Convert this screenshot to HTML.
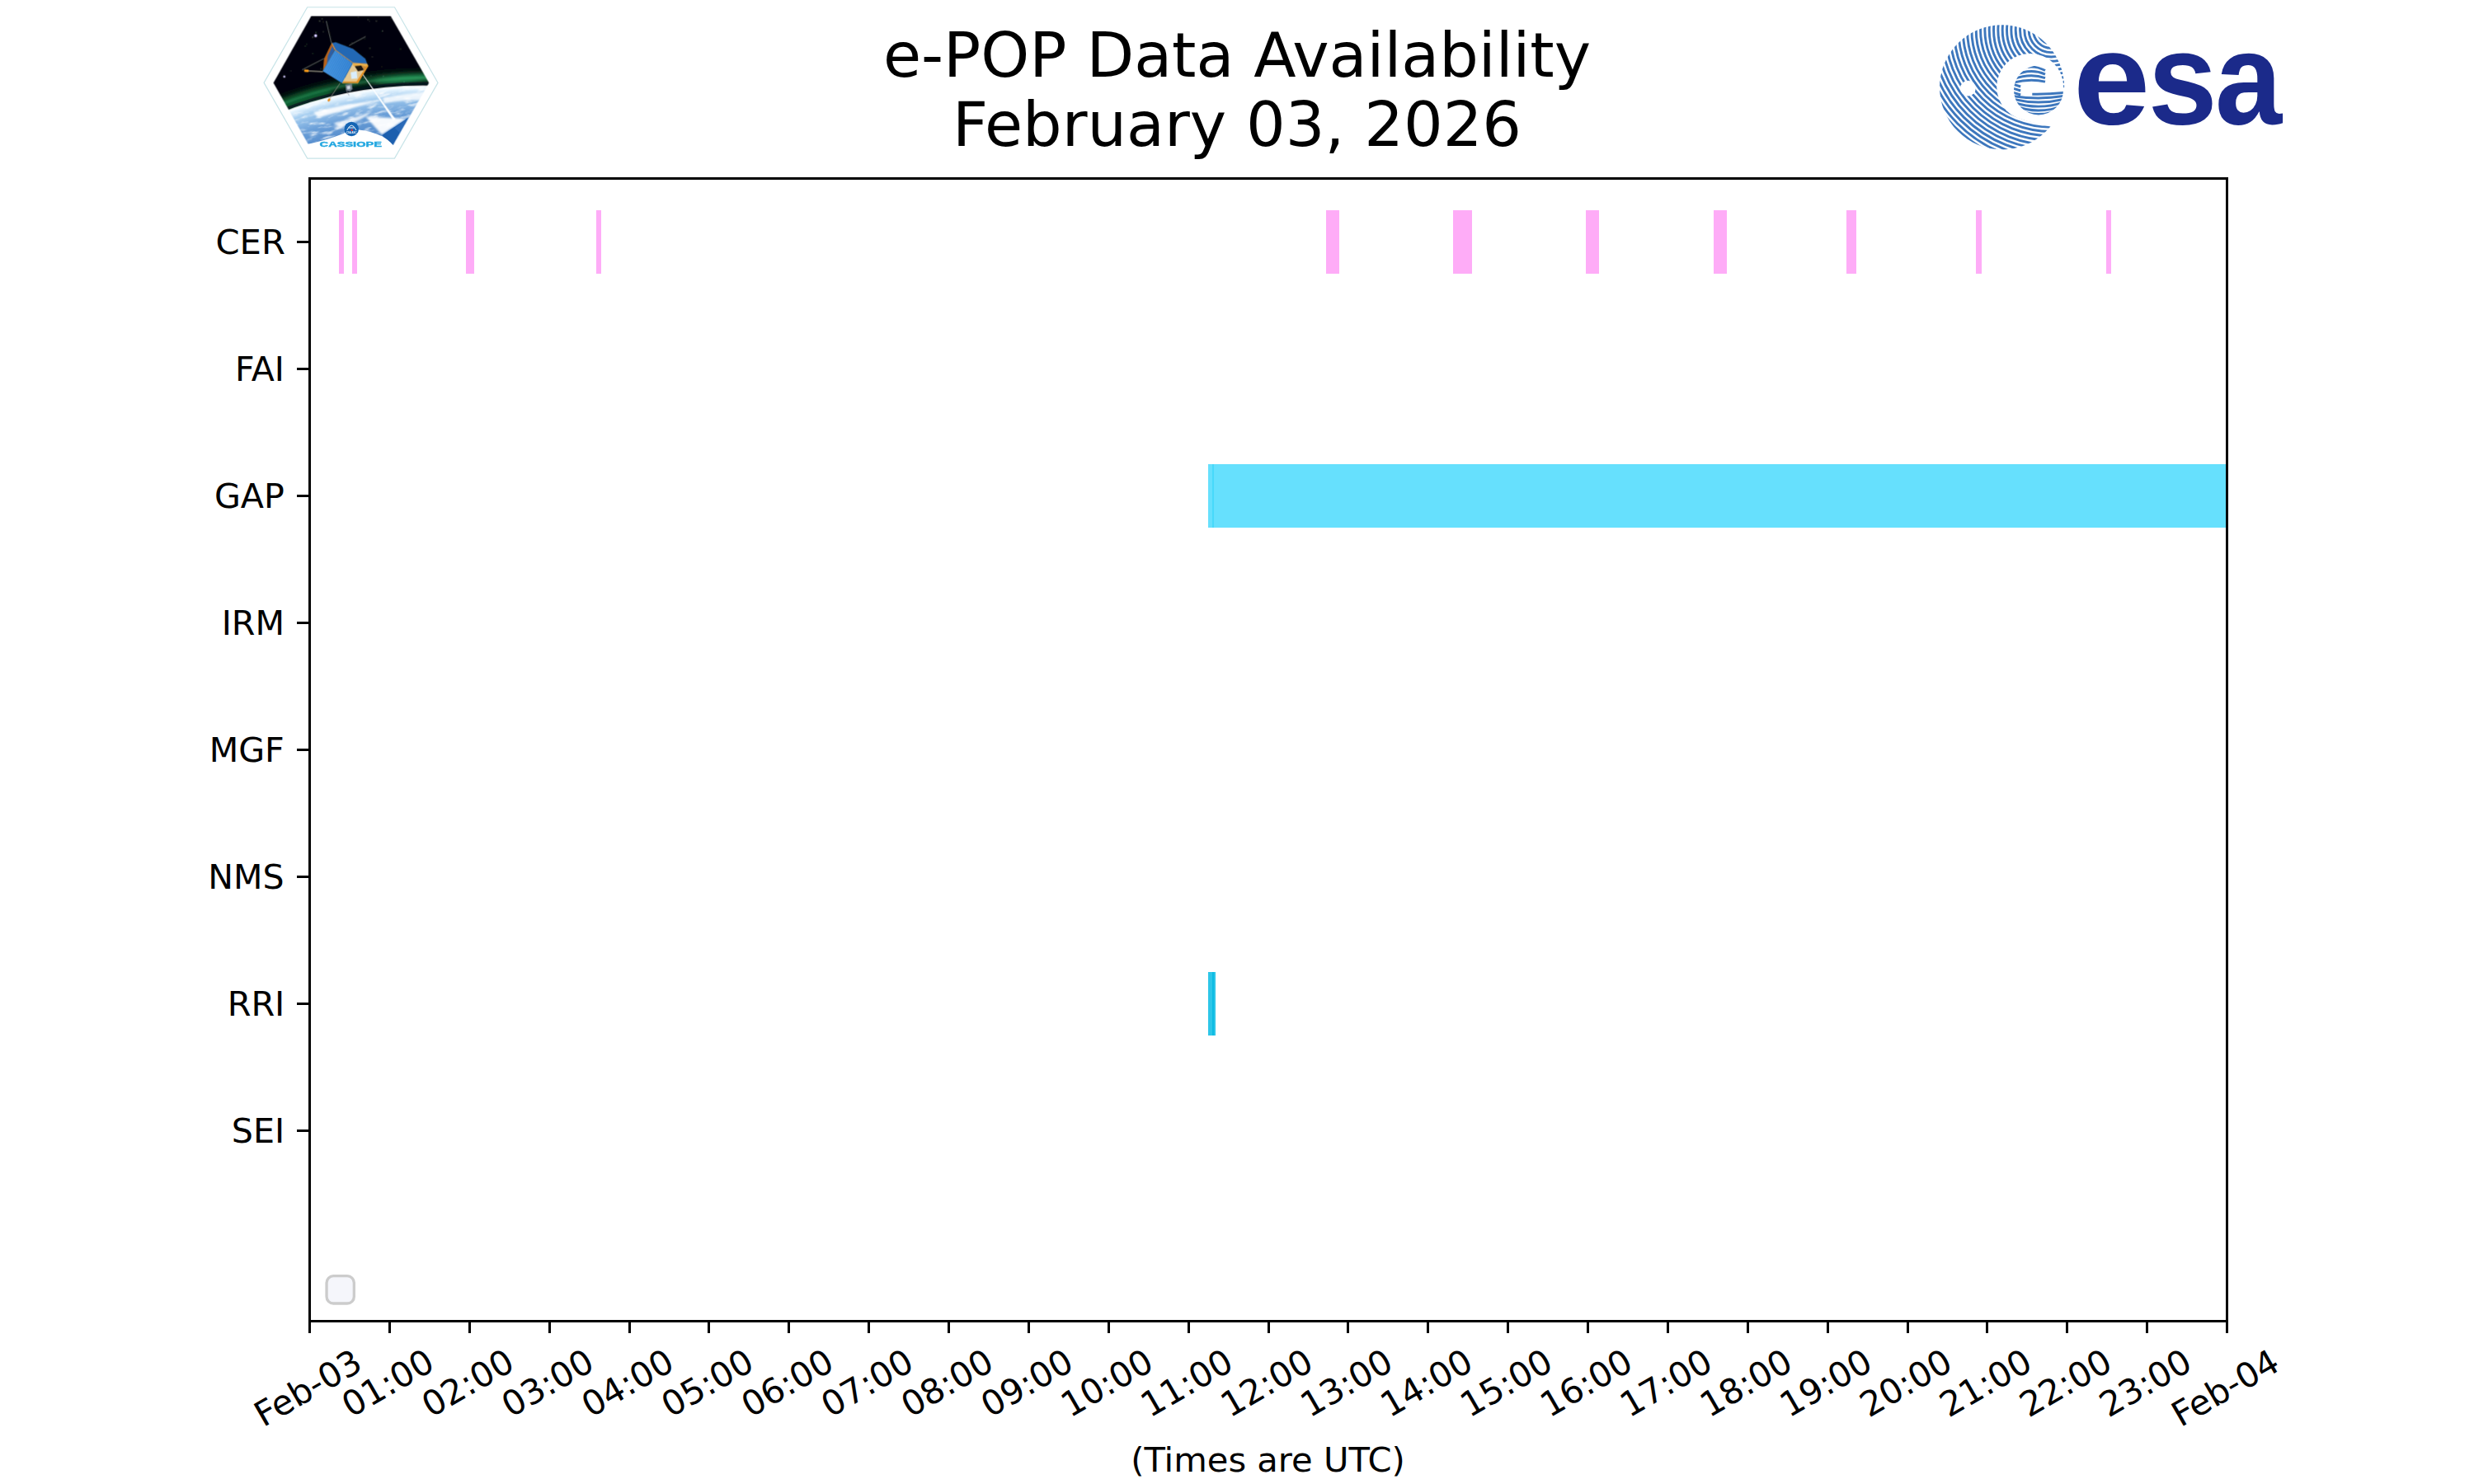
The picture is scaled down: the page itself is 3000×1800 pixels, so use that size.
<!DOCTYPE html>
<html lang="en"><head><meta charset="utf-8"><title>e-POP Data Availability</title>
<style>html,body{margin:0;padding:0;background:#fff}svg{display:block}text{font-family:'DejaVu Sans','Liberation Sans',sans-serif;fill:#000}.esa{font-family:"Liberation Sans",sans-serif;fill:#1b2a8a}</style></head><body>
<svg width="3000" height="1800" viewBox="0 0 3000 1800">
<rect width="3000" height="1800" fill="#fff"/>
<g fill="#feacf7" shape-rendering="crispEdges">
<rect x="411" y="255" width="6" height="77"/>
<rect x="427" y="255" width="6" height="77"/>
<rect x="565" y="255" width="10" height="77"/>
<rect x="723" y="255" width="6" height="77"/>
<rect x="1608" y="255" width="16" height="77"/>
<rect x="1762" y="255" width="23" height="77"/>
<rect x="1923" y="255" width="16" height="77"/>
<rect x="2078" y="255" width="16" height="77"/>
<rect x="2239" y="255" width="12" height="77"/>
<rect x="2396" y="255" width="7" height="77"/>
<rect x="2554" y="255" width="6" height="77"/>
</g>
<g shape-rendering="crispEdges">
<rect x="1465" y="563" width="1235" height="77" fill="#66e0fd"/>
<rect x="1470" y="563" width="2" height="77" fill="#47d9fb"/>
<rect x="1465" y="1179" width="9" height="77" fill="#2dc6e8"/>
<rect x="1470" y="1179" width="2" height="77" fill="#0cbbe3"/>
</g>
<rect x="396.05" y="1547.7" width="33.3" height="33.3" rx="8.3" ry="8.3" fill="#f5f6fb" stroke="#cccccc" stroke-width="3.33"/>
<g fill="#000" shape-rendering="crispEdges">
<rect x="374" y="215" width="3" height="1389"/>
<rect x="2699" y="215" width="3" height="1389"/>
<rect x="374" y="215" width="2328" height="3"/>
<rect x="374" y="1601" width="2328" height="3"/>
<rect x="374" y="1604" width="3" height="13.3"/>
<rect x="471" y="1604" width="3" height="13.3"/>
<rect x="568" y="1604" width="3" height="13.3"/>
<rect x="665" y="1604" width="3" height="13.3"/>
<rect x="762" y="1604" width="3" height="13.3"/>
<rect x="858" y="1604" width="3" height="13.3"/>
<rect x="955" y="1604" width="3" height="13.3"/>
<rect x="1052" y="1604" width="3" height="13.3"/>
<rect x="1149" y="1604" width="3" height="13.3"/>
<rect x="1246" y="1604" width="3" height="13.3"/>
<rect x="1343" y="1604" width="3" height="13.3"/>
<rect x="1440" y="1604" width="3" height="13.3"/>
<rect x="1537" y="1604" width="3" height="13.3"/>
<rect x="1633" y="1604" width="3" height="13.3"/>
<rect x="1730" y="1604" width="3" height="13.3"/>
<rect x="1827" y="1604" width="3" height="13.3"/>
<rect x="1924" y="1604" width="3" height="13.3"/>
<rect x="2021" y="1604" width="3" height="13.3"/>
<rect x="2118" y="1604" width="3" height="13.3"/>
<rect x="2215" y="1604" width="3" height="13.3"/>
<rect x="2312" y="1604" width="3" height="13.3"/>
<rect x="2408" y="1604" width="3" height="13.3"/>
<rect x="2505" y="1604" width="3" height="13.3"/>
<rect x="2602" y="1604" width="3" height="13.3"/>
<rect x="2699" y="1604" width="3" height="13.3"/>
<rect x="360.4" y="292" width="13.6" height="3"/>
<rect x="360.4" y="446" width="13.6" height="3"/>
<rect x="360.4" y="600" width="13.6" height="3"/>
<rect x="360.4" y="754" width="13.6" height="3"/>
<rect x="360.4" y="908" width="13.6" height="3"/>
<rect x="360.4" y="1062" width="13.6" height="3"/>
<rect x="360.4" y="1216" width="13.6" height="3"/>
<rect x="360.4" y="1370" width="13.6" height="3"/>
</g>
<g font-size="41.667">
<text transform="translate(319.24 1731.49) rotate(-30)">Feb-03</text>
<text transform="translate(425.53 1719.92) rotate(-30)">01:00</text>
<text transform="translate(522.40 1719.92) rotate(-30)">02:00</text>
<text transform="translate(619.28 1719.92) rotate(-30)">03:00</text>
<text transform="translate(716.15 1719.92) rotate(-30)">04:00</text>
<text transform="translate(813.03 1719.92) rotate(-30)">05:00</text>
<text transform="translate(909.90 1719.92) rotate(-30)">06:00</text>
<text transform="translate(1006.78 1719.92) rotate(-30)">07:00</text>
<text transform="translate(1103.65 1719.92) rotate(-30)">08:00</text>
<text transform="translate(1200.53 1719.92) rotate(-30)">09:00</text>
<text transform="translate(1297.40 1719.92) rotate(-30)">10:00</text>
<text transform="translate(1394.28 1719.92) rotate(-30)">11:00</text>
<text transform="translate(1491.15 1719.92) rotate(-30)">12:00</text>
<text transform="translate(1588.03 1719.92) rotate(-30)">13:00</text>
<text transform="translate(1684.90 1719.92) rotate(-30)">14:00</text>
<text transform="translate(1781.78 1719.92) rotate(-30)">15:00</text>
<text transform="translate(1878.65 1719.92) rotate(-30)">16:00</text>
<text transform="translate(1975.53 1719.92) rotate(-30)">17:00</text>
<text transform="translate(2072.40 1719.92) rotate(-30)">18:00</text>
<text transform="translate(2169.28 1719.92) rotate(-30)">19:00</text>
<text transform="translate(2266.15 1719.92) rotate(-30)">20:00</text>
<text transform="translate(2363.03 1719.92) rotate(-30)">21:00</text>
<text transform="translate(2459.90 1719.92) rotate(-30)">22:00</text>
<text transform="translate(2556.78 1719.92) rotate(-30)">23:00</text>
<text transform="translate(2644.24 1731.49) rotate(-30)">Feb-04</text>
<text x="1537.50" y="1785.32" text-anchor="middle">(Times are UTC)</text>
<text x="261.47" y="308.00" textLength="84.36" lengthAdjust="spacingAndGlyphs">CER</text>
<text x="284.91" y="462.00" textLength="59.92" lengthAdjust="spacingAndGlyphs">FAI</text>
<text x="259.93" y="616.00" textLength="84.91" lengthAdjust="spacingAndGlyphs">GAP</text>
<text x="268.66" y="770.00" textLength="76.37" lengthAdjust="spacingAndGlyphs">IRM</text>
<text x="253.65" y="924.00" textLength="91.19" lengthAdjust="spacingAndGlyphs">MGF</text>
<text x="252.29" y="1078.00" textLength="92.25" lengthAdjust="spacingAndGlyphs">NMS</text>
<text x="275.65" y="1232.00" textLength="69.69" lengthAdjust="spacingAndGlyphs">RRI</text>
<text x="280.77" y="1386.00" textLength="64.36" lengthAdjust="spacingAndGlyphs">SEI</text>
</g>
<g font-size="75.000">
<text x="1070.88" y="92.99">e-POP Data Availability</text>
<text x="1154.93" y="176.97">February 03, 2026</text>
</g>
<!--LOGOS-->
<defs>
<clipPath id="hx"><polygon points="160,745 500,145 1215,145 1560,745 1215,1345 500,1345"/></clipPath>
<clipPath id="ec"><circle cx="1503.9" cy="4211.7" r="3434.7"/></clipPath>
<filter id="bl" x="-5%" y="-5%" width="110%" height="110%"><feGaussianBlur stdDeviation="4"/></filter>
<filter id="bl2" x="-20%" y="-20%" width="140%" height="140%"><feGaussianBlur stdDeviation="22"/></filter>
<filter id="bl3" x="-20%" y="-20%" width="140%" height="140%"><feGaussianBlur stdDeviation="9"/></filter>
<filter id="cl" x="0" y="0" width="100%" height="100%"><feTurbulence type="fractalNoise" baseFrequency="0.009 0.034" numOctaves="4" seed="7" result="n"/><feColorMatrix in="n" type="matrix" values="0 0 0 0 1  0 0 0 0 1  0 0 0 0 1  3.0 0 0 0 -1.52"/><feComposite in2="SourceGraphic" operator="in"/></filter>
<radialGradient id="eg" gradientUnits="userSpaceOnUse" cx="1503.9" cy="4211.7" r="3442.7">
<stop offset="0" stop-color="#3a70b8"/><stop offset="0.86" stop-color="#4a82c6"/><stop offset="0.93" stop-color="#6a9fd8"/><stop offset="0.972" stop-color="#a4cdf0"/><stop offset="0.992" stop-color="#e6f5ff"/><stop offset="1" stop-color="#ffffff"/></radialGradient>
<linearGradient id="sp" x1="0" y1="0" x2="1" y2="0"><stop offset="0" stop-color="#3f8fdc"/><stop offset="1" stop-color="#2f7fd0"/></linearGradient>
</defs>
<g transform="translate(310 0) scale(0.13477)">
<polygon points="75,745 465,65 1250,65 1640,745 1250,1425 465,1425" fill="#ffffff" stroke="#c8e4e8" stroke-width="9"/>
<g clip-path="url(#hx)"><g filter="url(#bl)">
<rect x="100" y="100" width="1520" height="1300" fill="#04060a"/>
<circle cx="514" cy="482" r="2.9" fill="#cfd6e6" opacity="0.68"/>
<circle cx="1026" cy="190" r="2.0" fill="#cfd6e6" opacity="0.81"/>
<circle cx="542" cy="293" r="4.5" fill="#cfd6e6" opacity="0.61"/>
<circle cx="1304" cy="441" r="3.6" fill="#cfd6e6" opacity="0.43"/>
<circle cx="1038" cy="680" r="3.3" fill="#cfd6e6" opacity="0.76"/>
<circle cx="1086" cy="189" r="3.9" fill="#cfd6e6" opacity="0.68"/>
<circle cx="598" cy="169" r="4.2" fill="#cfd6e6" opacity="0.61"/>
<circle cx="1149" cy="686" r="3.8" fill="#cfd6e6" opacity="0.86"/>
<circle cx="721" cy="639" r="3.1" fill="#cfd6e6" opacity="0.86"/>
<circle cx="1360" cy="209" r="2.3" fill="#cfd6e6" opacity="0.47"/>
<circle cx="1474" cy="416" r="3.6" fill="#cfd6e6" opacity="0.52"/>
<circle cx="870" cy="385" r="2.9" fill="#cfd6e6" opacity="0.67"/>
<circle cx="971" cy="702" r="3.7" fill="#cfd6e6" opacity="0.86"/>
<circle cx="1330" cy="755" r="3.7" fill="#cfd6e6" opacity="0.44"/>
<circle cx="1336" cy="738" r="4.3" fill="#cfd6e6" opacity="0.66"/>
<circle cx="1142" cy="279" r="4.1" fill="#cfd6e6" opacity="0.67"/>
<circle cx="576" cy="189" r="4.1" fill="#cfd6e6" opacity="0.89"/>
<circle cx="317" cy="638" r="3.0" fill="#cfd6e6" opacity="0.43"/>
<circle cx="588" cy="619" r="4.2" fill="#cfd6e6" opacity="0.37"/>
<circle cx="1011" cy="177" r="3.8" fill="#cfd6e6" opacity="0.53"/>
<circle cx="1363" cy="748" r="3.3" fill="#cfd6e6" opacity="0.90"/>
<circle cx="609" cy="197" r="3.5" fill="#cfd6e6" opacity="0.37"/>
<circle cx="461" cy="399" r="3.5" fill="#cfd6e6" opacity="0.44"/>
<circle cx="256" cy="679" r="2.8" fill="#cfd6e6" opacity="0.88"/>
<circle cx="1384" cy="380" r="3.2" fill="#cfd6e6" opacity="0.64"/>
<circle cx="1050" cy="513" r="3.4" fill="#cfd6e6" opacity="0.69"/>
<circle cx="1442" cy="459" r="3.1" fill="#cfd6e6" opacity="0.75"/>
<circle cx="514" cy="334" r="4.4" fill="#cfd6e6" opacity="0.64"/>
<circle cx="924" cy="157" r="3.0" fill="#cfd6e6" opacity="0.67"/>
<circle cx="226" cy="526" r="3.6" fill="#cfd6e6" opacity="0.38"/>
<circle cx="1028" cy="434" r="3.7" fill="#cfd6e6" opacity="0.54"/>
<circle cx="1133" cy="600" r="2.1" fill="#cfd6e6" opacity="0.38"/>
<circle cx="1092" cy="738" r="2.6" fill="#cfd6e6" opacity="0.60"/>
<circle cx="982" cy="345" r="2.9" fill="#cfd6e6" opacity="0.52"/>
<circle cx="687" cy="513" r="2.8" fill="#cfd6e6" opacity="0.56"/>
<circle cx="1219" cy="166" r="3.4" fill="#cfd6e6" opacity="0.75"/>
<circle cx="609" cy="286" r="4.0" fill="#cfd6e6" opacity="0.48"/>
<circle cx="447" cy="415" r="3.7" fill="#cfd6e6" opacity="0.41"/>
<circle cx="540" cy="321" r="14" fill="#b9a8ff"/><circle cx="540" cy="321" r="7" fill="#fff"/>
<circle cx="258" cy="690" r="10" fill="#a99cf0"/><circle cx="258" cy="690" r="5" fill="#fff"/>
<g filter="url(#bl2)">
<circle cx="1503.9" cy="4211.7" r="3522.7" fill="none" stroke="#15803f" stroke-width="70" opacity=".6"/>
<ellipse cx="420" cy="915" rx="300" ry="80" fill="#126b38" opacity=".75" transform="rotate(-18 420 930)"/>
<ellipse cx="1350" cy="715" rx="300" ry="30" fill="#2bb86a" opacity=".75" transform="rotate(-5 1350 720)"/>
</g>
<g filter="url(#bl3)"><circle cx="1503.9" cy="4211.7" r="3512.7" fill="none" stroke="#5fd090" stroke-width="16" opacity=".3"/></g>
<circle cx="1503.9" cy="4211.7" r="3458.7" fill="none" stroke="#06141f" stroke-width="26" opacity=".8"/>
<circle cx="1503.9" cy="4211.7" r="3442.7" fill="url(#eg)"/>
<g clip-path="url(#ec)"><g filter="url(#cl)" opacity=".9" transform="rotate(-13 860 1000)"><rect x="-100" y="500" width="2000" height="1300" fill="#fff"/></g></g>
<g filter="url(#bl3)" fill="#ffffff">
<path d="M520,1010 Q800,930 1150,900 Q900,960 560,1060 Z" opacity=".9"/>
<path d="M990,1050 L1356,1066 L1135,1212 Z" opacity=".95"/>
<path d="M1150,880 Q1350,840 1520,830 L1500,900 Q1300,900 1150,930 Z" opacity=".8"/>
<path d="M700,1110 Q900,1060 1050,1000 Q950,1090 760,1150 Z" opacity=".8"/>
</g>
<polygon points="1372,1060 1135,1217 1236,1306" fill="#1f5fae"/>
<polygon points="1372,1060 1250,1150 1300,1200" fill="#2a6bb8"/>
<path d="M951,651 L1236,1082 L1258,1072 Z" fill="#ffffff" opacity=".95"/>
<line x1="951" y1="651" x2="1247" y2="1077" stroke="#fff" stroke-width="7"/>
<g stroke="#8a8f96" stroke-width="5" stroke-linecap="round">
<line x1="681" y1="384" x2="636" y2="192"/><line x1="843" y1="408" x2="987" y2="330"/>
<line x1="612" y1="528" x2="420" y2="627"/><line x1="603" y1="645" x2="470" y2="638" stroke="#c9c2b4" stroke-width="7"/>
<line x1="759" y1="750" x2="660" y2="897" stroke="#9a8f86" stroke-width="6"/><line x1="819" y1="819" x2="840" y2="858"/>
</g>
<rect x="436" y="626" width="42" height="22" rx="8" fill="#f59a1c" transform="rotate(4 457 637)"/>
<rect x="646" y="890" width="28" height="20" rx="7" fill="#e88a1a" transform="rotate(-55 660 900)"/>
<polygon points="681,393 711,447 606,639 615,531" fill="#b8631e"/>
<polygon points="690,415 708,450 640,575 650,500" fill="#2b5fa8"/>
<polygon points="684,387 720,380 876,440 987,528 1005,576 876,567 717,450" fill="#2467b4"/>
<polyline points="684,388 717,451 876,568 1005,577" fill="none" stroke="#e7a04a" stroke-width="8"/>
<polygon points="873,570 1005,579 1014,591 921,747 777,747" fill="#e3c894"/>
<polygon points="873,570 1005,579 1012,600 880,596" fill="#eab04a"/>
<polygon points="891,595 951,589 975,629 921,641" fill="#1a130c"/>
<polygon points="951,589 1003,600 985,640 975,629" fill="#c98a3a"/>
<polygon points="800,700 860,716 915,710 921,747 777,747" fill="#e8c98f"/>
<polygon points="855,651 909,639 915,705 861,711" fill="#d9eefc"/>
<polygon points="1005,585 1014,591 921,750 903,741" fill="#e58f1e"/>
<polygon points="777,747 921,747 903,735 790,735" fill="#d98a20"/>
<polygon points="711,450 873,570 777,747 603,639" fill="url(#sp)"/>
<g stroke="#7db6ee" stroke-width="2.2" opacity=".8">
<line x1="724" y1="460" x2="618" y2="648"/>
<line x1="738" y1="470" x2="632" y2="657"/>
<line x1="752" y1="480" x2="646" y2="666"/>
<line x1="765" y1="490" x2="661" y2="675"/>
<line x1="778" y1="500" x2="676" y2="684"/>
<line x1="792" y1="510" x2="690" y2="693"/>
<line x1="806" y1="520" x2="704" y2="702"/>
<line x1="819" y1="530" x2="719" y2="711"/>
<line x1="832" y1="540" x2="734" y2="720"/>
<line x1="846" y1="550" x2="748" y2="729"/>
<line x1="860" y1="560" x2="762" y2="738"/>
</g>
<polygon points="807,760 866,752 872,800 850,826 812,815" fill="#6d7b88"/>
<polygon points="820,775 850,770 852,800 825,805" fill="#cfd8e2"/>
</g>
</g>
<path d="M445,1303 L482,1295 Q640,1262 795,1201 Q862,1150 930,1168 Q1040,1180 1140,1228 Q1200,1262 1236,1306 L1262,1312 L1225,1400 L480,1400 Z" fill="#ffffff"/>
<circle cx="862.4" cy="1160.4" r="65" fill="#1565b4"/>
<path d="M822,1172 Q862,1085 905,1172 M838,1150 L886,1150" fill="none" stroke="#fff" stroke-width="7"/>
<circle cx="866" cy="1170" r="9" fill="#e5333b"/>
<text x="862.4" y="1204" font-size="24" font-weight="bold" text-anchor="middle" style="font-family:'Liberation Sans',sans-serif;fill:#fff" textLength="92" lengthAdjust="spacingAndGlyphs">CSA ASC</text>
<rect x="470" y="1335" width="770" height="22" fill="#fff"/>
<text x="576" y="1322" font-size="66" font-weight="bold" style="font-family:'Liberation Sans',sans-serif;fill:#22a7e0;stroke:#22a7e0;stroke-width:3" textLength="559" lengthAdjust="spacingAndGlyphs">CASSIOPE</text>
</g>
<defs>
<clipPath id="ed"><circle cx="2427.6" cy="105.9" r="75.6"/></clipPath>
<mask id="em" maskUnits="userSpaceOnUse" x="2340" y="20" width="180" height="175"><rect x="2340" y="20" width="180" height="175" fill="#fff"/><circle cx="2461.7" cy="105.5" r="40.5" fill="#000"/><circle cx="2386.4" cy="107.1" r="9.4" fill="#000"/><polygon points="2461.7,107.1 2511.9,107.1 2511.9,153.8 2487.2,153.8 2454.6,146.0" fill="#000"/></mask>
<clipPath id="eg1"><circle cx="2472.0" cy="109.4" r="30.0"/></clipPath>
<filter id="eb" x="-5%" y="-5%" width="110%" height="110%"><feGaussianBlur stdDeviation="0.45"/></filter>
</defs>
<g filter="url(#eb)">
<g clip-path="url(#ed)"><g mask="url(#em)" fill="none" stroke="#3d77bd" stroke-width="2.9">
<circle cx="2487.3" cy="36.5" r="11.14"/>
<circle cx="2487.3" cy="36.5" r="16.47"/>
<circle cx="2487.3" cy="36.5" r="21.80"/>
<circle cx="2487.3" cy="36.5" r="27.13"/>
<circle cx="2487.3" cy="36.5" r="32.46"/>
<circle cx="2487.3" cy="36.5" r="37.79"/>
<circle cx="2487.3" cy="36.5" r="43.12"/>
<circle cx="2487.3" cy="36.5" r="48.45"/>
<circle cx="2487.3" cy="36.5" r="53.78"/>
<circle cx="2487.3" cy="36.5" r="59.11"/>
<circle cx="2487.3" cy="36.5" r="64.44"/>
<circle cx="2487.3" cy="36.5" r="69.77"/>
<circle cx="2487.3" cy="36.5" r="75.10"/>
<circle cx="2487.3" cy="36.5" r="80.43"/>
<circle cx="2487.3" cy="36.5" r="85.76"/>
<circle cx="2487.3" cy="36.5" r="91.09"/>
<circle cx="2487.3" cy="36.5" r="96.42"/>
<circle cx="2487.3" cy="36.5" r="101.75"/>
<circle cx="2487.3" cy="36.5" r="107.08"/>
<circle cx="2487.3" cy="36.5" r="112.41"/>
<circle cx="2487.3" cy="36.5" r="117.74"/>
<circle cx="2487.3" cy="36.5" r="123.07"/>
<circle cx="2487.3" cy="36.5" r="128.40"/>
<circle cx="2487.3" cy="36.5" r="133.73"/>
<circle cx="2487.3" cy="36.5" r="139.06"/>
<circle cx="2487.3" cy="36.5" r="144.39"/>
<circle cx="2487.3" cy="36.5" r="149.72"/>
<circle cx="2487.3" cy="36.5" r="155.05"/>
<circle cx="2487.3" cy="36.5" r="160.38"/>
<circle cx="2487.3" cy="36.5" r="165.71"/>
<circle cx="2487.3" cy="36.5" r="171.04"/>
<circle cx="2487.3" cy="36.5" r="176.37"/>
<circle cx="2487.3" cy="36.5" r="181.70"/>
<circle cx="2487.3" cy="36.5" r="187.03"/>
<circle cx="2487.3" cy="36.5" r="192.36"/>
<circle cx="2487.3" cy="36.5" r="197.69"/>
<circle cx="2487.3" cy="36.5" r="203.02"/>
<circle cx="2487.3" cy="36.5" r="208.35"/>
<circle cx="2487.3" cy="36.5" r="213.68"/>
<circle cx="2487.3" cy="36.5" r="219.01"/>
<circle cx="2487.3" cy="36.5" r="224.34"/>
<circle cx="2487.3" cy="36.5" r="229.67"/>
</g></g>
<g clip-path="url(#ed)"><g clip-path="url(#eg1)" fill="none" stroke="#3d77bd" stroke-width="2.9">
<path d="M2438.5,90.0 Q2460.3,74.8 2480.0,85.6"/>
<path d="M2438.5,93.7 Q2460.3,81.4 2480.0,90.1"/>
<path d="M2438.5,97.3 Q2460.3,87.9 2480.0,94.6"/>
<path d="M2438.5,101.0 Q2460.3,94.5 2480.0,99.1"/>
<path d="M2439.7,101.8 L2450.2,105.0"/>
<path d="M2439.7,106.8 L2450.2,110.0"/>
<path d="M2439.7,111.8 L2450.2,115.0"/>
<path d="M2464.3,114.2 Q2483.2,114.6 2503.8,112.3"/>
<path d="M2438.5,116.1 Q2471.8,121.8 2505.0,116.1"/>
<path d="M2438.5,119.7 Q2471.8,128.4 2505.0,119.7"/>
<path d="M2438.5,123.2 Q2471.8,135.1 2505.0,123.2"/>
<path d="M2438.5,126.7 Q2471.8,141.4 2505.0,126.7"/>
<path d="M2438.5,129.8 Q2471.8,147.2 2505.0,129.8"/>
</g></g>
</g>
<text class="esa" y="149.7" font-size="160" font-weight="bold"><tspan x="2513.9" textLength="93.17" lengthAdjust="spacingAndGlyphs">e</tspan><tspan x="2604.7" textLength="83.92" lengthAdjust="spacingAndGlyphs">s</tspan><tspan x="2686.0" textLength="81.16" lengthAdjust="spacingAndGlyphs">a</tspan></text>
</svg></body></html>
